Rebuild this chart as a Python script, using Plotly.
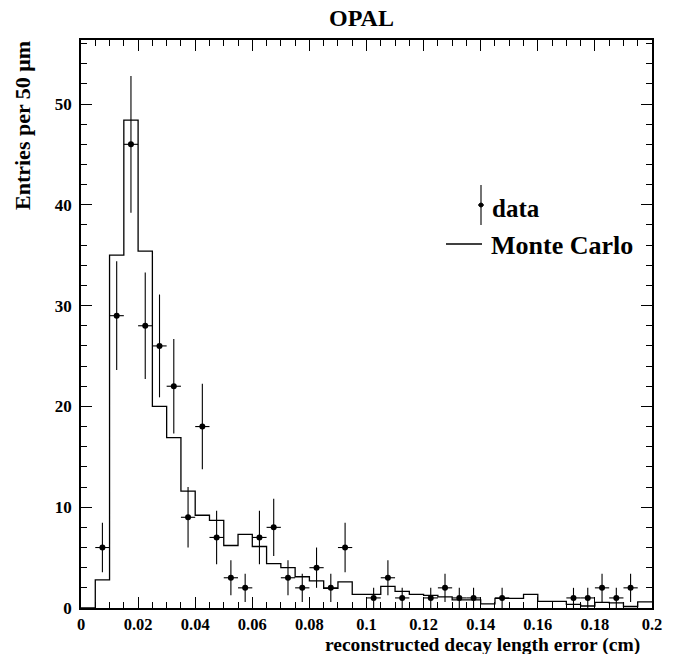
import plotly.graph_objects as go

# ---- data ----
bin_edges = [round(0.005 * i, 3) for i in range(41)]
mc_values = [0, 2.8, 35.0, 48.4, 35.4, 20.0, 16.9, 11.6, 9.2, 8.7,
             6.2, 7.3, 6.1, 4.4, 4.0, 3.1, 2.7, 1.95, 2.6, 1.35,
             1.35, 2.15, 1.65, 1.35, 1.25, 1.1, 0.8, 0.8, 0.4, 0.95,
             0.95, 1.35, 0.66, 0.66, 0.35, 0.2, 0.55, 0.5, 0.15, 0.6]

data_x = [0.0075, 0.0125, 0.0175, 0.0225, 0.0275, 0.0325, 0.0375, 0.0425, 0.0475,
          0.0525, 0.0575, 0.0625, 0.0675, 0.0725, 0.0775, 0.0825, 0.0875, 0.0925,
          0.1025, 0.1075, 0.1125, 0.1225, 0.1275, 0.1325, 0.1375, 0.1475,
          0.1725, 0.1775, 0.1825, 0.1875, 0.1925]
data_y = [6, 29, 46, 28, 26, 22, 9, 18, 7,
          3, 2, 7, 8, 3, 2, 4, 2, 6,
          1, 3, 1, 1, 2, 1, 1, 1,
          1, 1, 2, 1, 2]
data_err = [2.45, 5.39, 6.78, 5.29, 5.10, 4.69, 3.0, 4.24, 2.65,
            1.73, 1.41, 2.65, 2.83, 1.73, 1.41, 2.0, 1.41, 2.45,
            1.0, 1.73, 1.0, 1.0, 1.41, 1.0, 1.0, 1.0,
            1.0, 1.0, 1.41, 1.0, 1.41]
half_bin = 0.0025

x_ticks = [0, 0.02, 0.04, 0.06, 0.08, 0.1, 0.12, 0.14, 0.16, 0.18, 0.2]
x_ticklabels = ["0", "0.02", "0.04", "0.06", "0.08", "0.1", "0.12", "0.14", "0.16", "0.18", "0.2"]
y_ticks = [0, 10, 20, 30, 40, 50]

FONT = "Liberation Serif"

# ---- layout geometry (pixels) ----
W, H = 690, 654
L, R, T, B = 81, 652, 40, 608
PW, PH = R - L, B - T


def px(x):
    return (x - L) / PW


def py(y):
    return (B - y) / PH


fig = go.Figure()

# Monte Carlo histogram (step outline)
fig.add_trace(go.Scatter(
    x=bin_edges,
    y=mc_values + [mc_values[-1]],
    mode="lines",
    line=dict(color="black", width=1.3, shape="hv"),
    showlegend=False,
    hoverinfo="skip",
))

# data points with error bars
fig.add_trace(go.Scatter(
    x=data_x,
    y=data_y,
    mode="markers",
    marker=dict(color="black", size=6),
    error_y=dict(type="data", array=data_err, color="black", thickness=1.1, width=0),
    error_x=dict(type="constant", value=half_bin, color="black", thickness=1.1, width=0),
    showlegend=False,
))

axis_common = dict(
    showline=True, linecolor="black", linewidth=1.6, mirror="allticks",
    ticks="inside", ticklen=11, tickwidth=1.2, tickcolor="black",
    showgrid=False, zeroline=False,
)

fig.update_xaxes(
    range=[0, 0.2], tickvals=x_ticks, ticktext=x_ticklabels,
    minor=dict(dtick=0.005, tick0=0, ticks="inside", ticklen=6, tickwidth=1, tickcolor="black"),
    ticklabelstandoff=0,
    tickfont=dict(family=FONT, size=16.5, color="black", weight="bold"),
    **axis_common,
)
fig.update_yaxes(
    range=[0, 56.35], tickvals=y_ticks,
    minor=dict(dtick=2, tick0=0, ticks="inside", ticklen=6, tickwidth=1, tickcolor="black"),
    ticklabelstandoff=4,
    tickfont=dict(family=FONT, size=17, color="black", weight="bold"),
    **axis_common,
)

annotations = [
    dict(text="<b>OPAL</b>", x=px(361), y=py(18), xref="paper", yref="paper",
         xanchor="center", yanchor="middle", showarrow=False,
         font=dict(family=FONT, size=24, color="black")),
    dict(text="<b>reconstructed decay length error (cm)</b>", x=px(482), y=py(644.5),
         xref="paper", yref="paper", xanchor="center", yanchor="middle", showarrow=False,
         font=dict(family=FONT, size=19.5, color="black")),
    dict(text="<b>Entries per 50 μm</b>", x=px(22), y=py(126), xref="paper", yref="paper",
         xanchor="center", yanchor="middle", textangle=-90, showarrow=False,
         font=dict(family=FONT, size=22, color="black")),
    dict(text="<b>data</b>", x=px(516), y=py(208), xref="paper", yref="paper",
         xanchor="center", yanchor="middle", showarrow=False,
         font=dict(family=FONT, size=25, color="black")),
    dict(text="<b>Monte Carlo</b>", x=px(561.5), y=py(246), xref="paper", yref="paper",
         xanchor="center", yanchor="middle", showarrow=False,
         font=dict(family=FONT, size=26, color="black")),
]

shapes = [
    # legend: data glyph
    dict(type="line", xref="paper", yref="paper", x0=px(481), x1=px(481),
         y0=py(185), y1=py(225), line=dict(color="black", width=1.1)),
    dict(type="line", xref="paper", yref="paper", x0=px(478), x1=px(484),
         y0=py(205), y1=py(205), line=dict(color="black", width=1.1)),
    dict(type="circle", xref="paper", yref="paper", x0=px(479), x1=px(483),
         y0=py(203), y1=py(207), fillcolor="black", line=dict(color="black", width=1)),
    # legend: MC glyph
    dict(type="line", xref="paper", yref="paper", x0=px(446), x1=px(482),
         y0=py(244), y1=py(244), line=dict(color="black", width=1.3)),
]

fig.update_layout(
    width=W, height=H,
    margin=dict(l=L, r=W - R, t=T, b=H - B),
    paper_bgcolor="white", plot_bgcolor="white",
    annotations=annotations, shapes=shapes,
    showlegend=False,
)

fig.write_html("out.html")
